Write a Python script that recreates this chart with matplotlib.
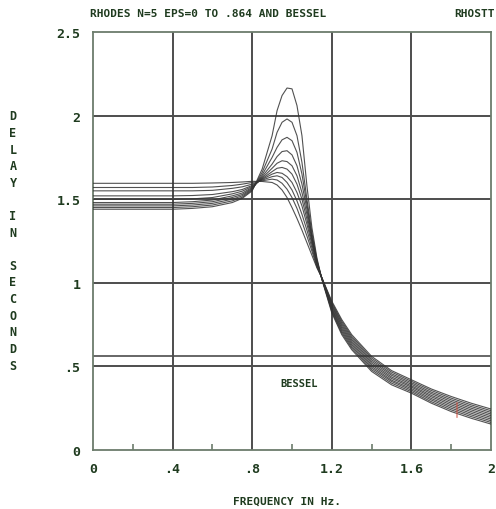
import matplotlib
matplotlib.use("Agg")
import matplotlib.pyplot as plt

# ---- data -------------------------------------------------------------
freq = [0.0, 0.2, 0.4, 0.5, 0.6, 0.7, 0.75, 0.8, 0.85, 0.9, 0.925, 0.95, 0.975,
        1.0, 1.025, 1.05, 1.075, 1.1, 1.125, 1.15, 1.2, 1.25, 1.3, 1.4, 1.5,
        1.6, 1.7, 1.8, 1.9, 2.0]

delay_eps_0 = [1.44, 1.44, 1.44, 1.445, 1.455, 1.48, 1.505, 1.55, 1.68, 1.88, 2.03, 2.12, 2.165,
               2.16, 2.06, 1.88, 1.58, 1.33, 1.15, 1.02, 0.82, 0.69, 0.60, 0.47, 0.39,
               0.34, 0.28, 0.23, 0.19, 0.155]
delay_eps_1 = [1.45, 1.45, 1.45, 1.455, 1.465, 1.49, 1.512, 1.555, 1.66, 1.80, 1.90, 1.96, 1.98,
               1.96, 1.88, 1.72, 1.50, 1.30, 1.14, 1.025, 0.828, 0.70, 0.61, 0.48, 0.40,
               0.349, 0.289, 0.24, 0.20, 0.165]
delay_eps_2 = [1.46, 1.46, 1.46, 1.465, 1.475, 1.50, 1.52, 1.56, 1.645, 1.75, 1.81, 1.855, 1.87,
               1.85, 1.78, 1.65, 1.47, 1.28, 1.13, 1.025, 0.836, 0.71, 0.62, 0.49, 0.41,
               0.358, 0.299, 0.25, 0.21, 0.175]
delay_eps_3 = [1.47, 1.47, 1.47, 1.475, 1.485, 1.51, 1.528, 1.565, 1.635, 1.71, 1.755, 1.785, 1.79,
               1.765, 1.70, 1.59, 1.44, 1.27, 1.13, 1.025, 0.843, 0.72, 0.63, 0.50, 0.418,
               0.367, 0.308, 0.26, 0.22, 0.185]
delay_eps_4 = [1.48, 1.48, 1.48, 1.485, 1.495, 1.52, 1.537, 1.57, 1.627, 1.685, 1.715, 1.73, 1.725,
               1.70, 1.64, 1.54, 1.41, 1.26, 1.12, 1.025, 0.851, 0.73, 0.64, 0.51, 0.428,
               0.376, 0.318, 0.27, 0.23, 0.195]
delay_eps_5 = [1.50, 1.50, 1.50, 1.502, 1.51, 1.532, 1.548, 1.576, 1.622, 1.665, 1.685, 1.69, 1.68,
               1.65, 1.59, 1.50, 1.38, 1.245, 1.115, 1.025, 0.859, 0.74, 0.65, 0.52, 0.437,
               0.384, 0.327, 0.28, 0.24, 0.205]
delay_eps_6 = [1.52, 1.52, 1.52, 1.522, 1.528, 1.545, 1.558, 1.582, 1.618, 1.65, 1.66, 1.655, 1.635,
               1.60, 1.54, 1.46, 1.35, 1.23, 1.11, 1.03, 0.867, 0.75, 0.66, 0.53, 0.447,
               0.393, 0.337, 0.29, 0.25, 0.215]
delay_eps_7 = [1.55, 1.55, 1.55, 1.55, 1.553, 1.565, 1.574, 1.59, 1.614, 1.635, 1.64, 1.63, 1.60,
               1.555, 1.49, 1.41, 1.315, 1.21, 1.10, 1.03, 0.874, 0.76, 0.67, 0.54, 0.456,
               0.402, 0.346, 0.30, 0.26, 0.225]
delay_eps_8 = [1.57, 1.57, 1.57, 1.57, 1.573, 1.582, 1.59, 1.60, 1.61, 1.62, 1.615, 1.595, 1.56,
               1.51, 1.445, 1.365, 1.28, 1.19, 1.095, 1.03, 0.882, 0.77, 0.68, 0.55, 0.466,
               0.411, 0.356, 0.31, 0.27, 0.235]
delay_eps_9 = [1.595, 1.595, 1.595, 1.595, 1.597, 1.60, 1.603, 1.607, 1.606, 1.60, 1.585, 1.555, 1.51,
               1.45, 1.385, 1.315, 1.24, 1.165, 1.09, 1.03, 0.89, 0.78, 0.69, 0.56, 0.475,
               0.42, 0.365, 0.32, 0.28, 0.245]

family = [delay_eps_0, delay_eps_1, delay_eps_2, delay_eps_3, delay_eps_4,
          delay_eps_5, delay_eps_6, delay_eps_7, delay_eps_8, delay_eps_9]

bessel_level = 0.565

# small red pen mark on the tail
pen_mark_x = 1.83
pen_mark_y = [0.20, 0.28]

x_ticks = [0.0, 0.4, 0.8, 1.2, 1.6, 2.0]
x_tick_labels = ["0", ".4", ".8", "1.2", "1.6", "2"]
x_minor = [0.2, 0.6, 1.0, 1.4, 1.8]
y_ticks = [0.0, 0.5, 1.0, 1.5, 2.0, 2.5]
y_tick_labels = ["0", ".5", "1", "1.5", "2", "2.5"]

title_text = "RHODES N=5 EPS=0 TO .864 AND BESSEL"
corner_text = "RHOSTT"
x_title = "FREQUENCY IN Hz."
y_title = "DELAY IN SECONDS"
bessel_label = "BESSEL"

# ---- style ------------------------------------------------------------
font = "DejaVu Sans Mono"
text_color = "#1f3b1f"
grid_color = "#4d4d4d"
spine_color = "#6c7c6c"

fig = plt.figure(figsize=(4.96, 5.10), dpi=100)
W, H = 496, 510
left_px, right_px, top_px, bottom_px = 93, 491, 33, 451
ax = fig.add_axes([left_px / W, 1 - bottom_px / H,
                   (right_px - left_px) / W, (bottom_px - top_px) / H])

ax.set_xlim(0, 2)
ax.set_ylim(0, 2.5)

# grid
for xv in x_ticks[1:-1]:
    ax.axvline(xv, color=grid_color, lw=1.4, zorder=1)
for yv in y_ticks[1:-1]:
    ax.axhline(yv, color=grid_color, lw=1.4, zorder=1)
ax.axhline(bessel_level, color=grid_color, lw=1.2, zorder=1)

# delay curves
for curve in family:
    ax.plot(freq, curve, color="#333333", lw=0.8, alpha=0.85, zorder=3)

ax.plot([pen_mark_x, pen_mark_x], pen_mark_y, color="#d05040", lw=1.2, alpha=0.6, zorder=4)

for s in ax.spines.values():
    s.set_color(spine_color)
    s.set_linewidth(1.3)

ax.set_xticks(x_ticks)
ax.set_xticklabels(x_tick_labels)
ax.set_yticks(y_ticks)
ax.set_yticklabels(y_tick_labels)
ax.set_xticks(x_minor, minor=True)
ax.tick_params(axis="both", which="major", length=0, pad=9)
ax.tick_params(axis="x", which="minor", direction="in", length=4, width=1.2, color=spine_color)
ax.tick_params(axis="y", which="minor", length=0)
for lab in ax.get_xticklabels() + ax.get_yticklabels():
    lab.set_fontfamily(font)
    lab.set_fontweight("bold")
    lab.set_fontsize(9.5)
    lab.set_color(text_color)

ax.text(0.94, 0.40, bessel_label, fontsize=7.5, fontweight="bold", family=font,
        color=text_color, ha="left", va="center", zorder=4)

# titles
fig.text(90 / W, 1 - 14 / H, title_text, fontsize=8, fontweight="bold", family=font,
         color=text_color, ha="left", va="center")
fig.text(495 / W, 1 - 14 / H, corner_text, fontsize=8, fontweight="bold", family=font,
         color=text_color, ha="right", va="center")
fig.text(287 / W, 1 - 502 / H, x_title, fontsize=8, fontweight="bold", family=font,
         color=text_color, ha="center", va="center")

# vertical stacked y title
y0_px, step_px = 117, 16.6
for i, ch in enumerate(y_title):
    if ch == " ":
        continue
    fig.text(13 / W, 1 - (y0_px + i * step_px) / H, ch, fontsize=8.5, fontweight="bold",
             family=font, color=text_color, ha="center", va="center")

fig.savefig("out.png", dpi=100)
